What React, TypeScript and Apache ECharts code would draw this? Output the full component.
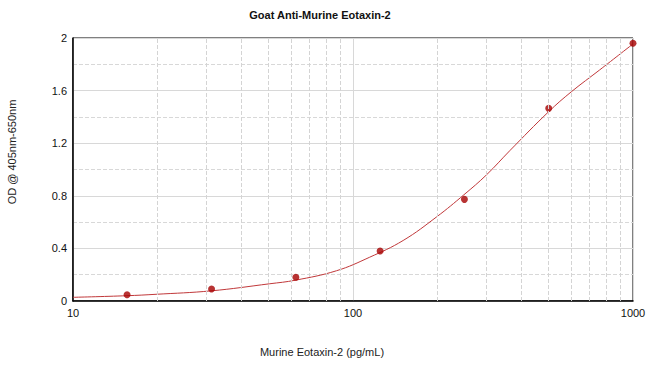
import React, { useEffect, useRef } from "react";
import * as echarts from "echarts";

const chartTitle = "Goat Anti-Murine Eotaxin-2";
const xAxisTitle = "Murine Eotaxin-2 (pg/mL)";
const yAxisTitle = "OD @ 405nm-650nm";

// Standard points
const concentrations = [15.6, 31.25, 62.5, 125, 250, 500, 1000];
const odValues = [0.048, 0.091, 0.18, 0.38, 0.773, 1.465, 1.96];

// Fitted curve
const curveX = [10, 15.5, 19.8, 31.1, 50.4, 62.2, 87.3, 114.7, 151, 199, 249, 300, 363, 500, 603, 760, 1000];
const curveY = [0.028, 0.04, 0.051, 0.077, 0.131, 0.158, 0.23, 0.333, 0.46, 0.64, 0.808, 0.96, 1.143, 1.44, 1.592, 1.757, 1.955];

// Minor vertical grid positions
const minorX = [20, 30, 40, 50, 60, 70, 80, 90, 200, 300, 400, 500, 600, 700, 800, 900];

export default function App() {
  const ref = useRef<HTMLDivElement>(null);
  useEffect(() => {
    if (!ref.current) return;
    const chart = echarts.init(ref.current, null, { renderer: "svg" });
    const font = "'Liberation Sans', Arial, sans-serif";
    chart.setOption({
      animation: false,
      textStyle: { fontFamily: font },
      grid: {
        left: 73,
        right: 17,
        top: 38,
        bottom: 66,
        show: true,
        borderColor: "#000",
        borderWidth: 1,
        backgroundColor: "#fff",
      },
      graphic: [
        {
          type: "text",
          x: 320,
          y: 15,
          style: {
            text: chartTitle,
            font: `bold 11px ${font}`,
            fill: "#111",
            textAlign: "center",
            textVerticalAlign: "middle",
          },
        },
        {
          type: "text",
          x: 322,
          y: 352,
          style: {
            text: xAxisTitle,
            font: `11px ${font}`,
            fill: "#222",
            textAlign: "center",
            textVerticalAlign: "middle",
          },
        },
        {
          type: "text",
          x: 12,
          y: 152,
          rotation: Math.PI / 2,
          style: {
            text: yAxisTitle,
            font: `11px ${font}`,
            fill: "#222",
            textAlign: "center",
            textVerticalAlign: "middle",
          },
        },
      ],
      xAxis: {
        type: "log",
        logBase: 10,
        min: 10,
        max: 1000,
        splitNumber: 2,
        axisLine: { show: true, onZero: false, lineStyle: { color: "#000", width: 1.5 } },
        axisTick: { show: false },
        axisLabel: {
          color: "#111",
          fontSize: 11,
          margin: 6,
          formatter: (v: number) => String(Math.round(v)),
        },
        splitLine: { show: true, lineStyle: { color: "#d8d8d8", width: 1 } },
      },
      yAxis: {
        type: "value",
        min: 0,
        max: 2,
        interval: 0.4,
        axisLine: { show: true, lineStyle: { color: "#000", width: 1.5 } },
        axisTick: { show: false },
        axisLabel: { color: "#111", fontSize: 11, margin: 6 },
        splitLine: { show: true, lineStyle: { color: "#d8d8d8", width: 1 } },
        minorTick: { show: false, splitNumber: 2 },
        minorSplitLine: { show: true, lineStyle: { color: "#d8d8d8", type: "dashed", width: 1 } },
      },
      series: [
        {
          type: "line",
          data: [],
          z: 1,
          markLine: {
            silent: true,
            symbol: "none",
            label: { show: false },
            lineStyle: { color: "#d4d4d4", type: "dashed", width: 1 },
            data: minorX.map((x) => ({ xAxis: x })),
          },
        },
        {
          type: "line",
          data: curveX.map((x, i) => [x, curveY[i]]),
          smooth: 0.4,
          showSymbol: false,
          symbol: "none",
          lineStyle: { color: "#c0383a", width: 1 },
          z: 3,
        },
        {
          type: "scatter",
          data: concentrations.map((x, i) => [x, odValues[i]]),
          symbol: "circle",
          symbolSize: 7,
          itemStyle: { color: "#a60000" },
          z: 4,
        },
      ],
    });
    return () => chart.dispose();
  }, []);
  return <div ref={ref} style={{ width: 650, height: 367, position: "absolute", left: 0, top: 0 }} />;
}
